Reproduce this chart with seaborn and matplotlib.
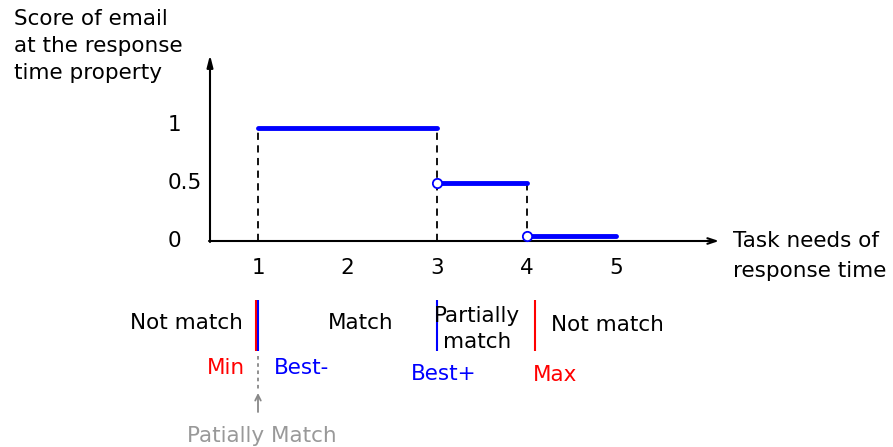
import numpy as np
import pandas as pd
import matplotlib
matplotlib.use('Agg')
import matplotlib.pyplot as plt
import seaborn as sns

# --- data ---
# score step function: one row per segment end
seg_id = [0, 0, 1, 1, 2, 2]
seg_x = [1, 3, 3, 4, 4, 5]
seg_y = [0.97, 0.97, 0.5, 0.5, 0.04, 0.04]

# open circles at the start of the lower steps
open_x = [3, 4]
open_y = [0.5, 0.04]

# dashed drop lines
drop_x = [1, 3, 4]
drop_top = [0.97, 0.97, 0.5]

x_ticks = [1, 2, 3, 4, 5]
y_ticks = [0, 0.5, 1]
y_tick_labels = ['0', '0.5', '1']

bound_names = ['Min', 'Best-', 'Best+', 'Max']
bound_x = [0.97, 1.0, 3.0, 4.1]
bound_colors = ['#ff0000', '#0000ff', '#0000ff', '#ff0000']

# --- layout helpers (pixel -> data) ---
W, H = 893, 447
X_ORIG, X_SCALE = 258.3, 89.4   # pixel of x=1, pixels per unit
Y_ORIG, Y_SCALE = 241, 116      # pixel of y=0, pixels per unit


def dx(px):
    return 1 + (px - X_ORIG) / X_SCALE


def dy(py):
    return (Y_ORIG - py) / Y_SCALE


sns.set_style('white')
plt.rcParams['font.family'] = ['DejaVu Sans']
plt.rcParams['text.color'] = 'black'
FS = 15.5

fig = plt.figure(figsize=(W / 100, H / 100), dpi=100)
ax = fig.add_axes([0, 0, 1, 1])

# axes with arrows
ax.annotate('', xy=(dx(210), dy(55)), xytext=(dx(210), dy(242)),
            arrowprops=dict(arrowstyle='-|>,head_width=0.18,head_length=0.7',
                            lw=1.5, color='black', shrinkA=0, shrinkB=0))
ax.annotate('', xy=(dx(719), dy(241)), xytext=(dx(209), dy(241)),
            arrowprops=dict(arrowstyle='->,head_width=0.2,head_length=0.6',
                            lw=1.5, color='black', shrinkA=0, shrinkB=0))

# dashed drops
ax.vlines(drop_x, 0, drop_top, colors='black', linestyles=(0, (4, 3)), lw=1.3)

# step segments
steps = pd.DataFrame({'seg': seg_id, 'x': seg_x, 'y': seg_y})
sns.lineplot(data=steps, x='x', y='y', units='seg', estimator=None,
             color='#0000ff', lw=3.5, ax=ax, legend=False)

sns.scatterplot(x=open_x, y=open_y, ax=ax, s=45, marker='o',
                facecolor='white', edgecolor='#0000ff', linewidth=1.3, zorder=5)

ax.set_xlim(dx(0), dx(W))
ax.set_ylim(dy(H), dy(0))
ax.axis('off')

# tick labels
for t in x_ticks:
    ax.text(t, dy(268), str(t), ha='center', va='center', fontsize=FS)
for v, lab in zip(y_ticks, y_tick_labels):
    ax.text(dx(168), v, lab, ha='left', va='center', fontsize=FS)

# axis titles
fig.text(14 / W, 1 - 9 / H, 'Score of email\nat the response\ntime property',
         ha='left', va='top', fontsize=FS, linespacing=1.45)
fig.text(733 / W, 1 - 256 / H, 'Task needs of\nresponse time',
         ha='left', va='center', fontsize=FS, linespacing=1.6)

# boundary markers below the axis
ax.vlines(bound_x, dy(300), dy(351), colors=bound_colors, lw=1.5)


def ftext(px, py, s, **kw):
    kw.setdefault('fontsize', FS)
    fig.text(px / W, 1 - py / H, s, ha='center', va='center', **kw)


ftext(186, 323, 'Not match')
ftext(361, 323, 'Match')
ftext(477, 329, 'Partially\nmatch', linespacing=1.35)
ftext(607, 325, 'Not match')

label_pos = [(226, 368), (301, 368), (444, 374), (555, 375)]
for name, c, (px, py) in zip(bound_names, bound_colors, label_pos):
    ftext(px, py, name, color=c)

# partially match pointer
ax.vlines(dx(258), dy(356), dy(392), colors='#888888', linestyles=(0, (2, 2)), lw=1.3)
ax.annotate('', xy=(dx(258), dy(393)), xytext=(dx(258), dy(412)),
            arrowprops=dict(arrowstyle='->,head_width=0.2,head_length=0.4',
                            lw=1.3, color='#888888', shrinkA=0, shrinkB=0))
ftext(262, 436, 'Patially Match', color='#999999')

fig.savefig('out.png', dpi=100)
